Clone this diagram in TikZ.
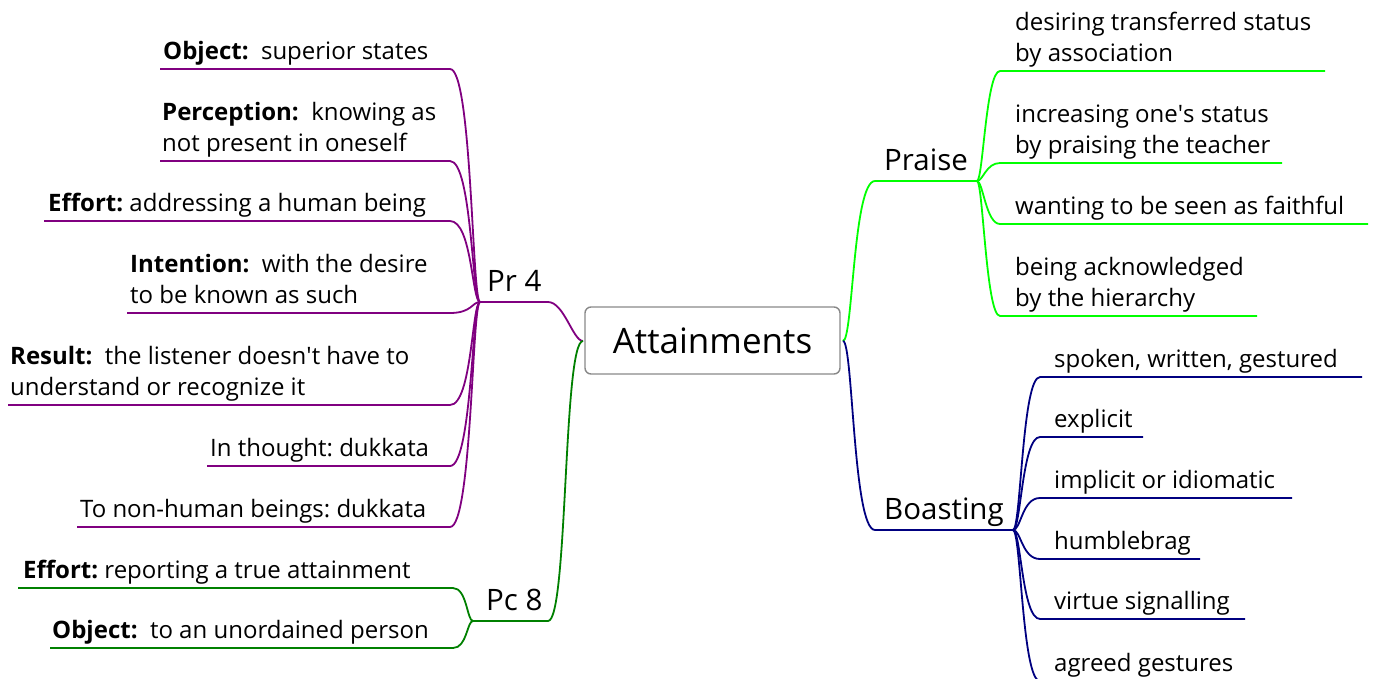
\documentclass[tikz,border=0pt]{standalone}
\usepackage{fontspec}
\setmainfont{Open Sans}
\definecolor{cpurple}{HTML}{800080}
\definecolor{cgreen}{HTML}{008000}
\definecolor{clime}{HTML}{00FF00}
\definecolor{cnavy}{HTML}{000080}
\definecolor{cbox}{HTML}{888888}
\frenchspacing
\newcommand{\aps}{\textquotesingle}
\begin{document}
\begin{tikzpicture}[x=1pt,y=-1pt,
  leaf/.style={anchor=south west,inner sep=0pt,align=left,font=\fontsize{24}{31}\selectfont},
  branch/.style={anchor=south west,inner sep=0pt,font=\fontsize{29.5}{33}\selectfont},
  root/.style={draw=cbox,line width=1.4pt,rounded corners=6pt,minimum width=255pt,minimum height=67pt,font=\fontsize{35}{40}\selectfont,inner sep=0pt},
  edge/.style={line width=1.8pt},
  pr/.style={edge,draw=cpurple},
  pc/.style={edge,draw=cgreen},
  pz/.style={edge,draw=clime},
  bo/.style={edge,draw=cnavy}]
\useasboundingbox (0,0) rectangle (1377,678);

% root
\node[root] (root) at (712.5,340.5) {Attainments};
\coordinate (rootL) at (583,341);
\coordinate (rootR) at (843,341);

% ---------- Pr 4 ----------
\node[branch] (pr4) at (487,302) {Pr 4\strut};
\coordinate (pr4L) at (480,302);
\coordinate (pr4R) at (548,302);
\draw[pr] (rootL) .. controls +(-10,0) and +(16,0) .. (pr4R) -- (pr4L);

\node[leaf] (p1) at (163,69) {\textbf{Object:}\ \ superior states\strut};
\node[leaf] (p2) at (162,161) {\textbf{Perception:}\ \ knowing as\\not present in oneself\strut};
\node[leaf] (p3) at (48,221) {\textbf{Effort:} addressing a human being\strut};
\node[leaf] (p4) at (130,313) {\textbf{Intention:}\ \ with the desire\\to be known as such\strut};
\node[leaf] (p5) at (10,405) {\textbf{Result:}\ \ the listener doesn\aps t have to\\understand or recognize it\strut};
\node[leaf] (p6) at (210,466) {In thought: dukkata\strut};
\node[leaf] (p7) at (80,527) {To non-human beings: dukkata\strut};

\coordinate (p1l) at (160,69);  \coordinate (p1r) at (450,69);
\coordinate (p2l) at (160,161); \coordinate (p2r) at (450,161);
\coordinate (p3l) at (44,221);  \coordinate (p3r) at (450,221);
\coordinate (p4l) at (127,313); \coordinate (p4r) at (450,313);
\coordinate (p5l) at (8,405);   \coordinate (p5r) at (450,405);
\coordinate (p6l) at (207,466); \coordinate (p6r) at (450,466);
\coordinate (p7l) at (77,527);  \coordinate (p7r) at (450,527);
\foreach \i in {1,...,7}{
  \draw[pr] (pr4L) .. controls +(-8,0) and +(22,0) .. (p\i r) -- (p\i l);
}

% ---------- Pc 8 ----------
\node[branch] (pc8) at (486,621) {Pc 8\strut};
\coordinate (pc8L) at (473,621);
\coordinate (pc8R) at (548,621);
\draw[pc] (rootL) .. controls +(-20,0) and +(20,0) .. (pc8R) -- (pc8L);

\node[leaf] (c1) at (23,588) {\textbf{Effort:} reporting a true attainment\strut};
\node[leaf] (c2) at (52,648) {\textbf{Object:}\ \ to an unordained person\strut};
\coordinate (c1l) at (18,588); \coordinate (c1r) at (453,588);
\coordinate (c2l) at (50,648); \coordinate (c2r) at (453,648);
\foreach \i in {1,2}{
  \draw[pc] (pc8L) .. controls +(-6,0) and +(14,0) .. (c\i r) -- (c\i l);
}

% ---------- Praise ----------
\node[branch] (praise) at (884,181) {Praise\strut};
\coordinate (pzL) at (875,181);
\coordinate (pzR) at (977,181);
\draw[pz] (rootR) .. controls +(10,0) and +(-22,0) .. (pzL) -- (pzR);

\node[leaf] (z1) at (1015,71) {desiring transferred status\\by association\strut};
\node[leaf] (z2) at (1015,163) {increasing one\aps s status\\by praising the teacher\strut};
\node[leaf] (z3) at (1015,224) {wanting to be seen as faithful\strut};
\node[leaf] (z4) at (1015,316) {being acknowledged\\by the hierarchy\strut};
\coordinate (z1l) at (1000,71);  \coordinate (z1r) at (1325,71);
\coordinate (z2l) at (1000,163); \coordinate (z2r) at (1282,163);
\coordinate (z3l) at (1000,224); \coordinate (z3r) at (1368,224);
\coordinate (z4l) at (1000,316); \coordinate (z4r) at (1257,316);
\foreach \i in {1,...,4}{
  \draw[pz] (pzR) .. controls +(6,0) and +(-14,0) .. (z\i l) -- (z\i r);
}

% ---------- Boasting ----------
\node[branch] (boast) at (884,530) {Boasting\strut};
\coordinate (boL) at (875,530);
\coordinate (boR) at (1013,530);
\draw[bo] (rootR) .. controls +(10,0) and +(-22,0) .. (boL) -- (boR);

\node[leaf] (b1) at (1054,377) {spoken, written, gestured\strut};
\node[leaf] (b2) at (1054,437) {explicit\strut};
\node[leaf] (b3) at (1054,498) {implicit or idiomatic\strut};
\node[leaf] (b4) at (1054,559) {humblebrag\strut};
\node[leaf] (b5) at (1054,619) {virtue signalling\strut};
\node[leaf] (b6) at (1054,681) {agreed gestures\strut};
\coordinate (b1l) at (1040,377); \coordinate (b1r) at (1362,377);
\coordinate (b2l) at (1040,437); \coordinate (b2r) at (1143,437);
\coordinate (b3l) at (1040,498); \coordinate (b3r) at (1292,498);
\coordinate (b4l) at (1040,559); \coordinate (b4r) at (1200,559);
\coordinate (b5l) at (1040,619); \coordinate (b5r) at (1245,619);
\coordinate (b6l) at (1040,681); \coordinate (b6r) at (1245,681);
\foreach \i in {1,...,6}{
  \draw[bo] (boR) .. controls +(8,0) and +(-18,0) .. (b\i l) -- (b\i r);
}
\end{tikzpicture}
\end{document}
